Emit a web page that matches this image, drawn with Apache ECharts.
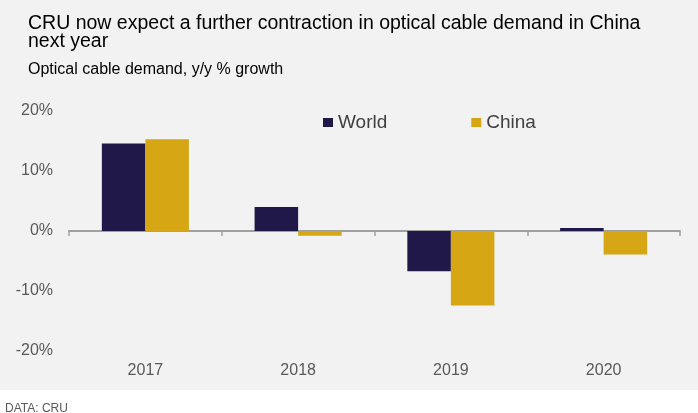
<!DOCTYPE html>
<html>
<head>
<meta charset="utf-8">
<script src="https://cdn.jsdelivr.net/npm/echarts@6/dist/echarts.min.js"></script>
<style>
html,body{margin:0;padding:0;background:#ffffff;}
#c{width:698px;height:413px;}
</style>
</head>
<body>
<div id="c"></div>
<script>
var categories = ['2017', '2018', '2019', '2020'];
var worldValues = [14.6, 4.0, -6.7, 0.5];
var chinaValues = [15.3, -0.8, -12.4, -3.9];
var seriesNames = ['World', 'China'];
var yTicks = {min: -20, max: 20, interval: 10};

var FONT = "'Liberation Sans', Arial, sans-serif";
var chart = echarts.init(document.getElementById('c'));
chart.setOption({
  backgroundColor: '#ffffff',
  animation: false,
  graphic: [{
    type: 'rect', z: -10, silent: true,
    shape: {x: 0, y: 0, width: 698, height: 390},
    style: {fill: '#f2f2f2'}
  }],
  title: [{
    text: 'CRU now expect a further contraction in optical cable demand in China\nnext year',
    left: 23, top: 10,
    textStyle: {fontFamily: FONT, fontSize: 19.5, fontWeight: 'normal', color: '#000000', lineHeight: 18}
  }, {
    text: 'Optical cable demand, y/y % growth',
    left: 23, top: 57,
    textStyle: {fontFamily: FONT, fontSize: 16, fontWeight: 'normal', color: '#000000', lineHeight: 16}
  }, {
    text: 'DATA: CRU',
    left: 0, top: 398,
    textStyle: {fontFamily: FONT, fontSize: 12, fontWeight: 'normal', color: '#595959', lineHeight: 12}
  }],
  legend: {
    data: seriesNames,
    left: 318, top: 108,
    icon: 'rect', itemWidth: 10, itemHeight: 9, itemGap: 84,
    textStyle: {fontFamily: FONT, fontSize: 19, color: '#404040'}
  },
  grid: {left: 69, right: 18, top: 111, bottom: 62, containLabel: false},
  xAxis: [{
    type: 'category', data: categories,
    axisLine: {onZero: true, lineStyle: {color: '#a0a0a0', width: 2}},
    axisTick: {show: true, length: 5, lineStyle: {color: '#a0a0a0', width: 1.5}},
    axisLabel: {show: false}
  }, {
    type: 'category', data: categories, position: 'bottom',
    axisLine: {show: false, onZero: false}, axisTick: {show: false},
    axisLabel: {margin: 12, fontFamily: FONT, fontSize: 16, color: '#595959'}
  }],
  yAxis: {
    type: 'value', min: yTicks.min, max: yTicks.max, interval: yTicks.interval,
    axisLine: {show: false}, axisTick: {show: false}, splitLine: {show: false},
    axisLabel: {margin: 16, fontFamily: FONT, fontSize: 16, color: '#595959', formatter: '{value}%'}
  },
  series: [{
    name: seriesNames[0], type: 'bar', data: worldValues,
    barGap: '0%', barCategoryGap: '43%',
    itemStyle: {color: '#201848'}
  }, {
    name: seriesNames[1], type: 'bar', data: chinaValues,
    barGap: '0%', barCategoryGap: '43%',
    itemStyle: {color: '#d6a615'}
  }]
});
</script>
</body>
</html>
